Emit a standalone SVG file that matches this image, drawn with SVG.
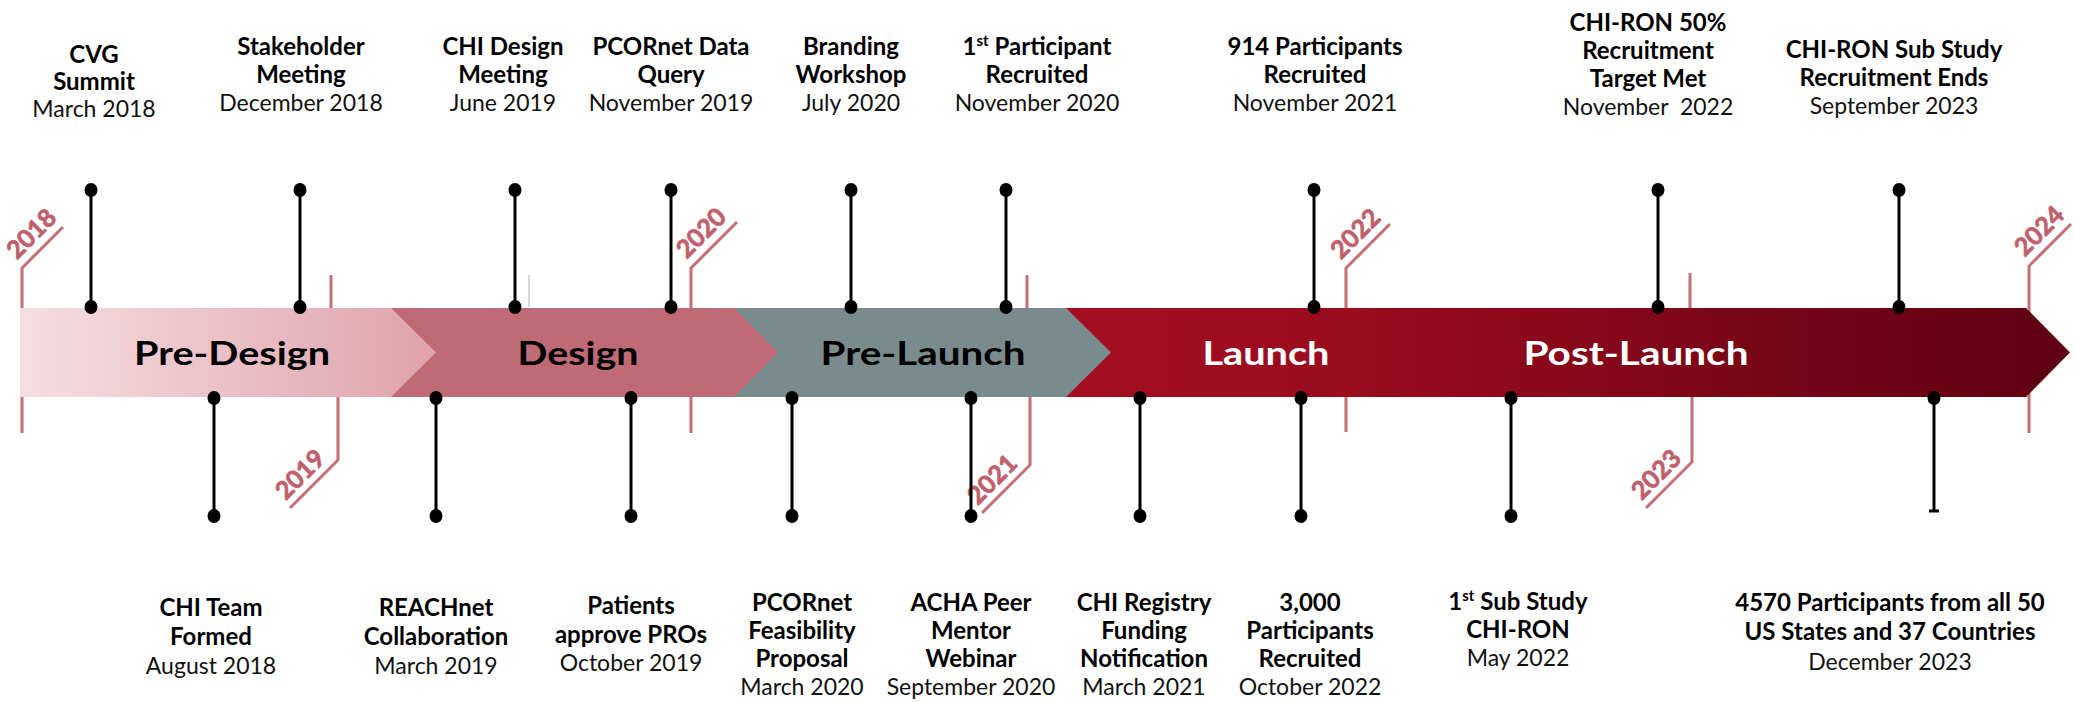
<svg xmlns="http://www.w3.org/2000/svg" width="2074" height="702" viewBox="0 0 2074 702">
  <style>
    .t { font-family: Lato, "Open Sans", "Liberation Sans", sans-serif; font-weight: 700; font-size: 24px; text-anchor: middle; fill: #000; }
    .d { font-family: Lato, "Open Sans", "Liberation Sans", sans-serif; font-weight: 400; font-size: 23px; text-anchor: middle; fill: #111; }
    .sup { font-size: 15px; }
    .ph { font-family: Lato, "Open Sans", "Liberation Sans", sans-serif; font-weight: 700; font-size: 33px; text-anchor: middle; }
    .yr { font-family: Lato, "Open Sans", "Liberation Sans", sans-serif; font-weight: 700; font-size: 25px; text-anchor: middle; fill: #C0606C; stroke: #C0606C; stroke-width: 0.8; }
    .yl { stroke: #C46E79; stroke-width: 3; fill: none; }
    .pin { stroke: #000; stroke-width: 3; }
    .dot { fill: #000; }
  </style>
  <defs>
    <linearGradient id="gPreDesign" gradientUnits="userSpaceOnUse" x1="20" y1="0" x2="436" y2="0">
      <stop offset="0" stop-color="#F5DEE2"/>
      <stop offset="1" stop-color="#E0A2AC"/>
    </linearGradient>
    <linearGradient id="gLaunch" gradientUnits="userSpaceOnUse" x1="1066" y1="0" x2="2070" y2="0">
      <stop offset="0" stop-color="#A50D21"/>
      <stop offset="0.3" stop-color="#990B1E"/>
      <stop offset="1" stop-color="#5E0111"/>
    </linearGradient>
  </defs>

  <rect width="2074" height="702" fill="#fff"/>

  <!-- year markers (drawn behind the band) -->
  <g id="year-2018">
    <polyline class="yl" points="63,227 22,268 22,433"/>
    <text class="yr" transform="translate(22,268) rotate(-45)" x="31" y="-9">2018</text>
  </g>
  <g id="year-2019">
    <line class="yl" x1="331" y1="275" x2="331" y2="310"/>
    <polyline class="yl" points="338,395 338,460 290,508"/>
    <text class="yr" transform="translate(290,508) rotate(-45)" x="31" y="-8">2019</text>
  </g>
  <g id="year-2020">
    <polyline class="yl" points="737,222 691,268 691,433"/>
    <text class="yr" transform="translate(691,268) rotate(-45)" x="32" y="-9">2020</text>
  </g>
  <g id="year-2021">
    <line class="yl" x1="1027" y1="275" x2="1027" y2="310"/>
    <polyline class="yl" points="1030,395 1030,465 982,513"/>
    <text class="yr" transform="translate(982,513) rotate(-45)" x="31" y="-8">2021</text>
  </g>
  <g id="year-2022">
    <polyline class="yl" points="1390,224 1346,268 1346,432"/>
    <text class="yr" transform="translate(1346,268) rotate(-45)" x="31" y="-9">2022</text>
  </g>
  <g id="year-2023">
    <line class="yl" x1="1690" y1="273" x2="1690" y2="310"/>
    <polyline class="yl" points="1692,395 1692,462 1646,508"/>
    <text class="yr" transform="translate(1646,508) rotate(-45)" x="31" y="-8">2023</text>
  </g>
  <g id="year-2024">
    <polyline class="yl" points="2071,224 2029,266 2029,433"/>
    <text class="yr" transform="translate(2029,266) rotate(-45)" x="32" y="-9">2024</text>
  </g>
  <line x1="529" y1="275" x2="529" y2="307" stroke="#D9D9D9" stroke-width="2"/>

  <!-- phase band, right to left so each tip overlaps the next segment -->
  <g id="phase-launch">
    <polygon points="1060,308 2026,308 2070,352.5 2026,397 1060,397" fill="url(#gLaunch)"/>
    <text class="ph" x="1266" y="365" fill="#fff" textLength="127" lengthAdjust="spacingAndGlyphs">Launch</text>
    <text class="ph" x="1636" y="365" fill="#fff" textLength="225" lengthAdjust="spacingAndGlyphs">Post-Launch</text>
  </g>
  <g id="phase-prelaunch">
    <polygon points="728,308 1066,308 1111,352.5 1066,397 728,397" fill="#7A8B8D"/>
    <text class="ph" x="923" y="365" fill="#000" textLength="205" lengthAdjust="spacingAndGlyphs">Pre-Launch</text>
  </g>
  <g id="phase-design">
    <polygon points="385,308 734,308 778,352.5 734,397 385,397" fill="#BF6A74"/>
    <text class="ph" x="578" y="365" fill="#000" textLength="121" lengthAdjust="spacingAndGlyphs">Design</text>
  </g>
  <g id="phase-predesign">
    <polygon points="20,308 391,308 436,352.5 391,397 20,397" fill="url(#gPreDesign)"/>
    <text class="ph" x="232" y="365" fill="#000" textLength="196" lengthAdjust="spacingAndGlyphs">Pre-Design</text>
  </g>

  <!-- pins linking milestones to the band -->
  <g id="connectors">
    <g class="pin">
      <line x1="91" y1="190" x2="91" y2="307"/>
      <line x1="300" y1="190" x2="300" y2="307"/>
      <line x1="515" y1="190" x2="515" y2="307"/>
      <line x1="671" y1="190" x2="671" y2="307"/>
      <line x1="851" y1="190" x2="851" y2="307"/>
      <line x1="1006" y1="190" x2="1006" y2="307"/>
      <line x1="1314" y1="190" x2="1314" y2="307"/>
      <line x1="1658" y1="190" x2="1658" y2="307"/>
      <line x1="1899" y1="190" x2="1899" y2="307"/>
      <line x1="214" y1="398" x2="214" y2="516"/>
      <line x1="436" y1="398" x2="436" y2="516"/>
      <line x1="631" y1="398" x2="631" y2="516"/>
      <line x1="792" y1="398" x2="792" y2="516"/>
      <line x1="971" y1="398" x2="971" y2="516"/>
      <line x1="1140" y1="398" x2="1140" y2="516"/>
      <line x1="1301" y1="398" x2="1301" y2="516"/>
      <line x1="1511" y1="398" x2="1511" y2="516"/>
      <line x1="1934" y1="398" x2="1934" y2="511"/>
      <line x1="1929" y1="511" x2="1939" y2="511"/>
    </g>
    <g class="dot">
      <ellipse cx="91" cy="190" rx="6.5" ry="7"/><ellipse cx="91" cy="307" rx="6.5" ry="7"/>
      <ellipse cx="300" cy="190" rx="6.5" ry="7"/><ellipse cx="300" cy="307" rx="6.5" ry="7"/>
      <ellipse cx="515" cy="190" rx="6.5" ry="7"/><ellipse cx="515" cy="307" rx="6.5" ry="7"/>
      <ellipse cx="671" cy="190" rx="6.5" ry="7"/><ellipse cx="671" cy="307" rx="6.5" ry="7"/>
      <ellipse cx="851" cy="190" rx="6.5" ry="7"/><ellipse cx="851" cy="307" rx="6.5" ry="7"/>
      <ellipse cx="1006" cy="190" rx="6.5" ry="7"/><ellipse cx="1006" cy="307" rx="6.5" ry="7"/>
      <ellipse cx="1314" cy="190" rx="6.5" ry="7"/><ellipse cx="1314" cy="307" rx="6.5" ry="7"/>
      <ellipse cx="1658" cy="190" rx="6.5" ry="7"/><ellipse cx="1658" cy="307" rx="6.5" ry="7"/>
      <ellipse cx="1899" cy="190" rx="6.5" ry="7"/><ellipse cx="1899" cy="307" rx="6.5" ry="7"/>
      <ellipse cx="214" cy="398" rx="6.5" ry="7"/><ellipse cx="214" cy="516" rx="6.5" ry="7"/>
      <ellipse cx="436" cy="398" rx="6.5" ry="7"/><ellipse cx="436" cy="516" rx="6.5" ry="7"/>
      <ellipse cx="631" cy="398" rx="6.5" ry="7"/><ellipse cx="631" cy="516" rx="6.5" ry="7"/>
      <ellipse cx="792" cy="398" rx="6.5" ry="7"/><ellipse cx="792" cy="516" rx="6.5" ry="7"/>
      <ellipse cx="971" cy="398" rx="6.5" ry="7"/><ellipse cx="971" cy="516" rx="6.5" ry="7"/>
      <ellipse cx="1140" cy="398" rx="6.5" ry="7"/><ellipse cx="1140" cy="516" rx="6.5" ry="7"/>
      <ellipse cx="1301" cy="398" rx="6.5" ry="7"/><ellipse cx="1301" cy="516" rx="6.5" ry="7"/>
      <ellipse cx="1511" cy="398" rx="6.5" ry="7"/><ellipse cx="1511" cy="516" rx="6.5" ry="7"/>
      <ellipse cx="1934" cy="398" rx="6.5" ry="7"/>
    </g>
  </g>

  <!-- milestones above the band -->
  <g id="m-cvg-summit">
    <text class="t" x="94" y="63">CVG</text>
    <text class="t" x="94" y="90">Summit</text>
    <text class="d" x="94" y="117">March 2018</text>
  </g>
  <g id="m-stakeholder">
    <text class="t" x="301" y="55">Stakeholder</text>
    <text class="t" x="301" y="83">Meeting</text>
    <text class="d" x="301" y="111">December 2018</text>
  </g>
  <g id="m-chi-design">
    <text class="t" x="503" y="55">CHI Design</text>
    <text class="t" x="503" y="83">Meeting</text>
    <text class="d" x="503" y="111">June 2019</text>
  </g>
  <g id="m-pcornet-query">
    <text class="t" x="671" y="55">PCORnet Data</text>
    <text class="t" x="671" y="83">Query</text>
    <text class="d" x="671" y="111">November 2019</text>
  </g>
  <g id="m-branding">
    <text class="t" x="851" y="55">Branding</text>
    <text class="t" x="851" y="83">Workshop</text>
    <text class="d" x="851" y="111">July 2020</text>
  </g>
  <g id="m-first-participant">
    <text class="t" x="1037" y="55">1<tspan class="sup" dy="-9">st</tspan><tspan dy="9"> Participant</tspan></text>
    <text class="t" x="1037" y="83">Recruited</text>
    <text class="d" x="1037" y="111">November 2020</text>
  </g>
  <g id="m-914">
    <text class="t" x="1315" y="55">914 Participants</text>
    <text class="t" x="1315" y="83">Recruited</text>
    <text class="d" x="1315" y="111">November 2021</text>
  </g>
  <g id="m-chiron-50">
    <text class="t" x="1648" y="31">CHI-RON 50%</text>
    <text class="t" x="1648" y="59">Recruitment</text>
    <text class="t" x="1648" y="87">Target Met</text>
    <text class="d" x="1648" y="115" xml:space="preserve">November  2022</text>
  </g>
  <g id="m-chiron-ends">
    <text class="t" x="1894" y="58">CHI-RON Sub Study</text>
    <text class="t" x="1894" y="86">Recruitment Ends</text>
    <text class="d" x="1894" y="114">September 2023</text>
  </g>

  <!-- milestones below the band -->
  <g id="m-chi-team">
    <text class="t" x="211" y="616">CHI Team</text>
    <text class="t" x="211" y="645">Formed</text>
    <text class="d" x="211" y="674">August 2018</text>
  </g>
  <g id="m-reachnet">
    <text class="t" x="436" y="616">REACHnet</text>
    <text class="t" x="436" y="645">Collaboration</text>
    <text class="d" x="436" y="674">March 2019</text>
  </g>
  <g id="m-patients">
    <text class="t" x="631" y="614">Patients</text>
    <text class="t" x="631" y="643">approve PROs</text>
    <text class="d" x="631" y="671">October 2019</text>
  </g>
  <g id="m-pcornet-feasibility">
    <text class="t" x="802" y="611">PCORnet</text>
    <text class="t" x="802" y="639">Feasibility</text>
    <text class="t" x="802" y="667">Proposal</text>
    <text class="d" x="802" y="695">March 2020</text>
  </g>
  <g id="m-acha">
    <text class="t" x="971" y="611">ACHA Peer</text>
    <text class="t" x="971" y="639">Mentor</text>
    <text class="t" x="971" y="667">Webinar</text>
    <text class="d" x="971" y="695">September 2020</text>
  </g>
  <g id="m-chi-registry">
    <text class="t" x="1144" y="611">CHI Registry</text>
    <text class="t" x="1144" y="639">Funding</text>
    <text class="t" x="1144" y="667">Notification</text>
    <text class="d" x="1144" y="695">March 2021</text>
  </g>
  <g id="m-3000">
    <text class="t" x="1310" y="611">3,000</text>
    <text class="t" x="1310" y="639">Participants</text>
    <text class="t" x="1310" y="667">Recruited</text>
    <text class="d" x="1310" y="695">October 2022</text>
  </g>
  <g id="m-first-substudy">
    <text class="t" x="1518" y="610">1<tspan class="sup" dy="-9">st</tspan><tspan dy="9"> Sub Study</tspan></text>
    <text class="t" x="1518" y="638">CHI-RON</text>
    <text class="d" x="1518" y="666">May 2022</text>
  </g>
  <g id="m-4570">
    <text class="t" x="1890" y="611">4570 Participants from all 50</text>
    <text class="t" x="1890" y="640">US States and 37 Countries</text>
    <text class="d" x="1890" y="670">December 2023</text>
  </g>
</svg>
